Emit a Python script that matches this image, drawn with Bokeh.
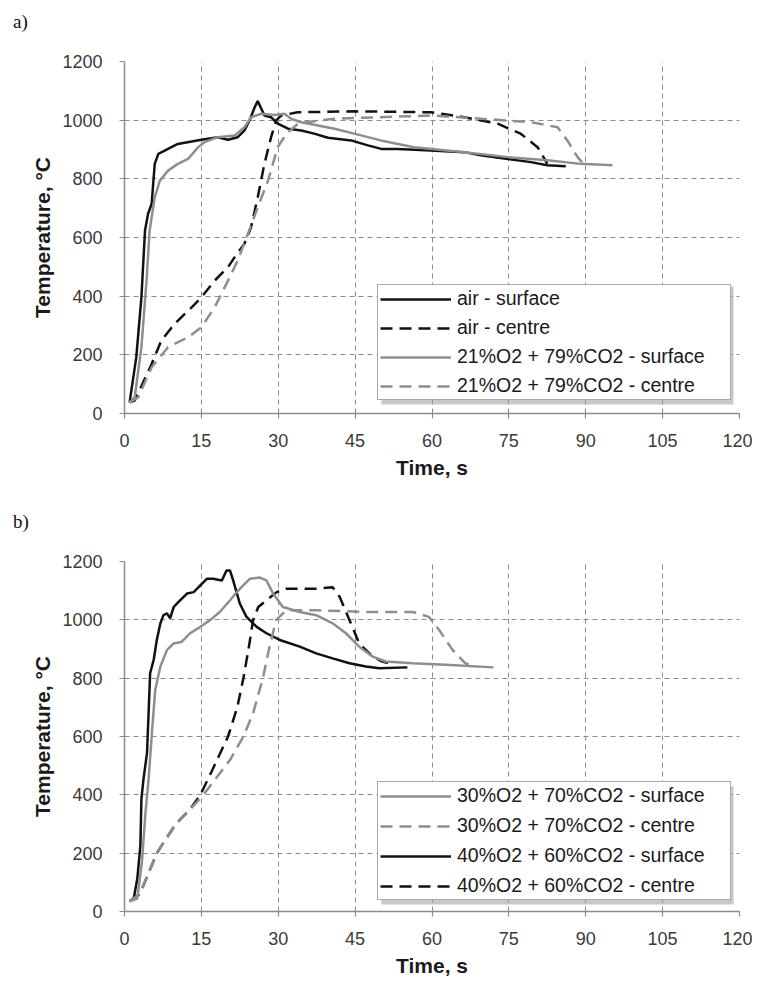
from bokeh.plotting import figure
from bokeh.models import Legend, LegendItem, SingleIntervalTicker, Range1d, Div, BoxAnnotation
from bokeh.layouts import column
from bokeh.embed import file_html
from bokeh.resources import INLINE

# ---------------- data: panel a) ----------------
t_air_surface = [1.0, 2.3, 3.3, 4.0, 4.6, 5.3, 5.9, 6.6, 8.5, 10.4, 15.0, 18.2, 20.2, 22.1, 23.4, 24.4, 25.4, 26.0, 26.7, 27.3,
                 28.6, 29.9, 31.9, 34.5, 37.0, 39.7, 44.2, 47.5, 50.1, 53.3, 59.8, 66.3, 69.5, 74.8, 79.3, 82.5, 86.1]
T_air_surface = [38, 192, 396, 624, 681, 715, 851, 885, 902, 919, 933, 942, 933, 942, 965, 999, 1044, 1065, 1039, 1016,
                 1010, 988, 971, 965, 954, 940, 931, 914, 902, 902, 897, 891, 880, 868, 857, 846, 843]

t_air_centre = [1.0, 2.0, 5.3, 7.2, 9.8, 13.1, 15.0, 17.6, 20.2, 21.5, 23.4, 24.7, 26.0, 27.3, 28.6, 29.6, 30.6, 33.8, 45.0, 59.8,
                66.3, 72.8, 77.3, 80.6, 82.5]
T_air_centre = [38, 44, 169, 249, 306, 362, 396, 453, 499, 533, 579, 635, 737, 851, 942, 999, 1016, 1027, 1030, 1027,
                1010, 988, 954, 908, 851]

t_o21_surface = [1.0, 2.0, 3.3, 4.3, 4.9, 5.9, 6.9, 8.5, 10.4, 12.4, 14.4, 15.6, 18.2, 21.5, 23.4, 24.7, 26.7, 29.3, 31.2, 32.5,
                 34.5, 41.0, 44.8, 50.0, 56.5, 66.3, 74.8, 82.5, 89.0, 95.2]
T_o21_surface = [38, 56, 226, 453, 624, 737, 794, 828, 851, 868, 908, 925, 942, 948, 976, 1010, 1022, 1018, 1022, 1005,
                 993, 971, 954, 931, 908, 891, 874, 863, 851, 846]

t_o21_centre = [1.0, 2.7, 5.3, 8.5, 12.4, 15.0, 17.6, 20.2, 22.1, 24.1, 26.0, 28.0, 29.9, 31.6, 34.0, 41.0, 50.0, 59.8, 69.5, 79.3,
                84.5, 86.4, 88.4, 89.6]
T_o21_centre = [38, 56, 158, 226, 260, 294, 362, 453, 522, 613, 703, 794, 908, 954, 990, 1005, 1010, 1016, 1005, 993,
                976, 931, 874, 851]

# ---------------- data: panel b) ----------------
t_o30_surface = [1.0, 2.5, 3.4, 4.1, 4.7, 5.4, 6.0, 7.0, 8.3, 9.6, 11.2, 12.8, 14.8, 16.7, 18.6, 20.6, 21.9, 23.5, 24.5, 26.4,
                 27.7, 29.0, 30.9, 34.2, 37.4, 40.6, 43.2, 45.8, 48.4, 51.0, 56.2, 62.7, 72.0]
T_o30_surface = [35, 44, 169, 340, 453, 624, 760, 840, 897, 919, 925, 954, 976, 999, 1027, 1067, 1095, 1124, 1141, 1145,
                 1135, 1090, 1044, 1027, 1016, 988, 954, 908, 874, 857, 851, 846, 837]

t_o30_centre = [1.0, 3.0, 6.3, 10.0, 12.8, 15.4, 18.0, 20.6, 23.2, 25.1, 27.0, 28.2, 29.6, 31.6, 37.4, 47.1, 56.2, 59.4, 61.4, 64.0,
                66.5, 68.5]
T_o30_centre = [35, 60, 200, 300, 350, 400, 460, 520, 600, 680, 800, 900, 1000, 1033, 1033, 1027, 1027, 1010, 965, 897,
                851, 840]

t_o40_surface = [1.0, 1.8, 2.5, 3.1, 3.3, 3.7, 4.4, 5.0, 5.7, 6.3, 7.0, 7.6, 8.3, 8.9, 9.6, 10.5, 12.2, 13.5, 14.8, 16.1,
                 17.3, 19.0, 19.9, 20.6, 21.2, 22.5, 23.8, 25.8, 27.7, 30.3, 34.2, 37.4, 40.6, 43.9, 47.1, 49.7, 55.2]
T_o40_surface = [35, 44, 113, 226, 385, 453, 545, 817, 863, 931, 988, 1016, 1022, 1005, 1044, 1061, 1090, 1095, 1118, 1141,
                 1141, 1135, 1169, 1169, 1135, 1056, 1010, 976, 954, 931, 908, 885, 868, 851, 840, 834, 837]

t_o40_centre = [1.0, 3.0, 6.3, 10.0, 12.8, 14.8, 17.0, 18.6, 20.2, 22.0, 23.2, 24.2, 25.1, 26.1, 27.7, 29.7, 31.6, 37.4, 40.6, 42.0,
                43.9, 45.8, 48.4, 50.3, 51.7]
T_o40_centre = [35, 60, 200, 300, 350, 400, 480, 540, 600, 700, 800, 900, 1000, 1044, 1067, 1095, 1107, 1107, 1112, 1078,
                999, 919, 874, 857, 851]

x_ticks_interval = 15
y_ticks_interval = 200

labels_a = ["air - surface", "air - centre", "21%O2 + 79%CO2 - surface", "21%O2 + 79%CO2 - centre"]
labels_b = ["30%O2 + 70%CO2 - surface", "30%O2 + 70%CO2 - centre", "40%O2 + 60%CO2 - surface", "40%O2 + 60%CO2 - centre"]

BLACK = "#111111"
GRAY = "#8e8e8e"
GRID = "#8c8c8c"
SANS = "Liberation Sans"


def panel_tag(tag, pad_top):
    html = ('<div style="padding:%dpx 0 0 13px;font-family:\'Liberation Serif\',serif;'
            'font-size:19px;line-height:19px;color:#111">%s</div>' % (pad_top, tag))
    return Div(text=html, width=752, height=40, margin=(0, 0, 0, 0))


def make_fig(height, bl, br, bt, bb):
    p = figure(width=752, height=height, output_backend="svg", toolbar_location=None,
               x_range=Range1d(0, 120), y_range=Range1d(0, 1200),
               min_border_left=bl, min_border_right=br, min_border_top=bt, min_border_bottom=bb,
               margin=(0, 0, 0, 0))
    p.outline_line_color = None
    p.background_fill_color = "white"
    p.border_fill_color = "white"
    p.xaxis.ticker = SingleIntervalTicker(interval=x_ticks_interval)
    p.yaxis.ticker = SingleIntervalTicker(interval=y_ticks_interval)
    for ax in (p.xaxis[0], p.yaxis[0]):
        ax.axis_line_color = GRID
        ax.axis_line_width = 1.5
        ax.major_tick_line_color = GRID
        ax.major_tick_line_width = 1.2
        ax.major_tick_out = 5
        ax.major_tick_in = 0
        ax.minor_tick_line_color = None
        ax.major_label_text_font = SANS
        ax.major_label_text_font_size = "18px"
        ax.major_label_text_color = "#3a3a3a"
        ax.axis_label_text_font = SANS
        ax.axis_label_text_font_size = "21px"
        ax.axis_label_text_font_style = "bold"
        ax.axis_label_text_color = "#1a1a1a"
    p.xaxis.axis_label = "Time, s"
    p.yaxis.axis_label = "Temperature, °C"
    p.xaxis.major_label_standoff = 15
    p.yaxis.major_label_standoff = 17
    p.xaxis.axis_label_standoff = 6
    p.yaxis.axis_label_standoff = 5
    for g in (p.xgrid[0], p.ygrid[0]):
        g.grid_line_color = GRID
        g.grid_line_dash = "5 4"
        g.grid_line_width = 1
    return p


LEG_W = 352
LEG_H = 118


def add_legend(p, items, loc, spacing):
    x0, y0 = loc
    shadow = BoxAnnotation(left=x0 + 4, right=x0 + LEG_W + 4, bottom=y0 - 4, top=y0 + LEG_H - 4,
                           left_units="screen", right_units="screen", top_units="screen", bottom_units="screen",
                           fill_color="#9a9a9a", fill_alpha=0.55, line_color=None)
    p.add_layout(shadow)
    lg = Legend(items=items, location=loc, label_text_font=SANS, label_text_font_size="19.5px",
                label_text_color="#1a1a1a", glyph_width=71, glyph_height=20, label_height=22,
                label_width=271, spacing=spacing, padding=2, label_standoff=6, border_line_color="#555555",
                border_line_width=1, background_fill_alpha=1.0, margin=0)
    p.add_layout(lg, "center")


# ---------------- panel a ----------------
pa = make_fig(458, 123, 13, 21, 85)
r1 = pa.line(t_air_surface, T_air_surface, line_color=BLACK, line_width=2.5)
r2 = pa.line(t_air_centre, T_air_centre, line_color=BLACK, line_width=2.5, line_dash="12 7")
r3 = pa.line(t_o21_surface, T_o21_surface, line_color=GRAY, line_width=2.5)
r4 = pa.line(t_o21_centre, T_o21_centre, line_color=GRAY, line_width=2.5, line_dash="12 7")
add_legend(pa, [LegendItem(label=l, renderers=[r]) for l, r in zip(labels_a, [r1, r2, r3, r4])], (253, 13), 6)

# ---------------- panel b ----------------
pb = make_fig(441, 124, 10, 23, 66)
q3 = pb.line(t_o40_surface, T_o40_surface, line_color=BLACK, line_width=2.5)
q4 = pb.line(t_o40_centre, T_o40_centre, line_color=BLACK, line_width=2.5, line_dash="12 7")
q1 = pb.line(t_o30_surface, T_o30_surface, line_color=GRAY, line_width=2.5)
q2 = pb.line(t_o30_centre, T_o30_centre, line_color=GRAY, line_width=2.5, line_dash="12 7")
add_legend(pb, [LegendItem(label=l, renderers=[r]) for l, r in zip(labels_b, [q1, q2, q3, q4])], (253, 11), 7)

layout = column(panel_tag("a)", 12), pa, panel_tag("b)", 14), pb, spacing=0)
open("out.html", "w").write(file_html(layout, INLINE))
